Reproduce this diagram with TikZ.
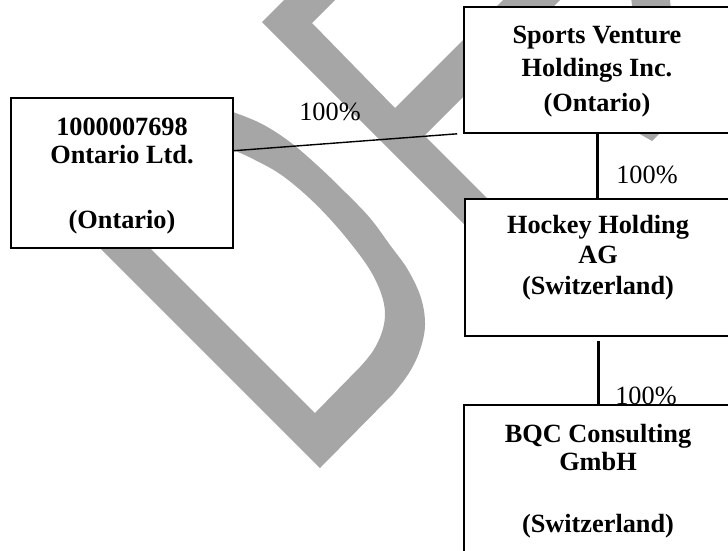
\documentclass[tikz,border=0pt]{standalone}
\usepackage{fontspec}
\setmainfont{Liberation Serif}
\usetikzlibrary{calc}
\definecolor{wm}{RGB}{166,166,166}
\begin{document}
\begin{tikzpicture}[x=1pt,y=-1pt,
  box/.style={draw=black, fill=white, line width=1.6pt, inner sep=0pt},
  txt/.style={font=\fontsize{26.3}{30}\selectfont\bfseries, inner sep=0pt, anchor=base},
  pct/.style={font=\fontsize{26.3}{30}\selectfont, inner sep=0pt, anchor=base},
  link/.style={draw=black, line width=1.4pt},
  vlink/.style={draw=black, line width=3pt}]
\useasboundingbox (0,0) rectangle (728,550);
\clip (0,0) rectangle (728,550);
% watermark: letter D
\fill[wm, even odd rule]
  (52,200) -- (320,468) -- (393,394)
  -- plot[smooth, tension=0.6] coordinates {(393,394) (409,373) (420,350) (425,325) (421,298) (408,270) (390,245) (370,218) (345,192) (318,166) (290,142) (262,124) (233,112) (210,104)}
  -- cycle
  (102,200) -- (315,413) -- (360,367)
  -- plot[smooth, tension=0.6] coordinates {(360,367) (373,351) (382,332) (385,313) (381,293) (370,270) (352,245) (330,219) (306,195) (280,174) (255,160) (233,150) (210,143)}
  -- cycle;
% watermark: letter R (stem, top bar, middle bar)
\fill[wm] (262,22) -- (294,-10) -- (345,-10) -- (312,23) -- (395,108) -- (513,-10)
  -- (570,-10) -- (424.5,135.5) -- (545,256) -- (500,260) -- cycle;
% watermark: R leg tip
\fill[wm] (652,141) -- (660,133) -- (680,113) -- (600,111) -- cycle;
% watermark: A stroke sliver
\fill[wm] (630,-10) -- (669,-10) -- (672,20) -- (634,20) -- cycle;
% boxes
\node[box, minimum width=222pt, minimum height=150pt] (b1) at (122,173) {};
\node[box, minimum width=266pt, minimum height=126pt] (b2) at (597,70) {};
\node[box, minimum width=267pt, minimum height=137pt] (b3) at (598.5,267.5) {};
\node[box, minimum width=268pt, minimum height=160pt] (b4) at (598,485) {};
% connectors
\coordinate (c1s) at ($(b1.north east)!0.353!(b1.south east)$);
\coordinate (c1e) at ([xshift=-6pt]b2.south west);
\draw[link] (c1s) -- (c1e);
\draw[vlink] (b2.south) -- (b2.south |- b3.north);
\coordinate (c3s) at ([yshift=-4pt]b3.south);
\draw[vlink] (c3s) -- (c3s |- b4.north);
% texts
\node[txt] (t1a) at (122,135) {1000007698};
\node[txt] (t1b) at (122,163) {Ontario Ltd.};
\node[txt] (t1c) at (122,228) {(Ontario)};
\node[txt] (t2a) at (597,43) {Sports Venture};
\node[txt] (t2b) at (597,76) {Holdings Inc.};
\node[txt] (t2c) at (597,111) {(Ontario)};
\node[txt] (t3a) at (598,233) {Hockey Holding};
\node[txt] (t3b) at (598,263) {AG};
\node[txt] (t3c) at (598,294) {(Switzerland)};
\node[txt] (t4a) at (598,442) {BQC Consulting};
\node[txt] (t4b) at (598,470) {GmbH};
\node[txt] (t4c) at (598,532) {(Switzerland)};
% percentages
\node[pct] (p1) at (330,120) {100\%};
\node[pct] (p2) at (647,183) {100\%};
\node[pct] (p3) at (646,404) {100\%};
\end{tikzpicture}
\end{document}
